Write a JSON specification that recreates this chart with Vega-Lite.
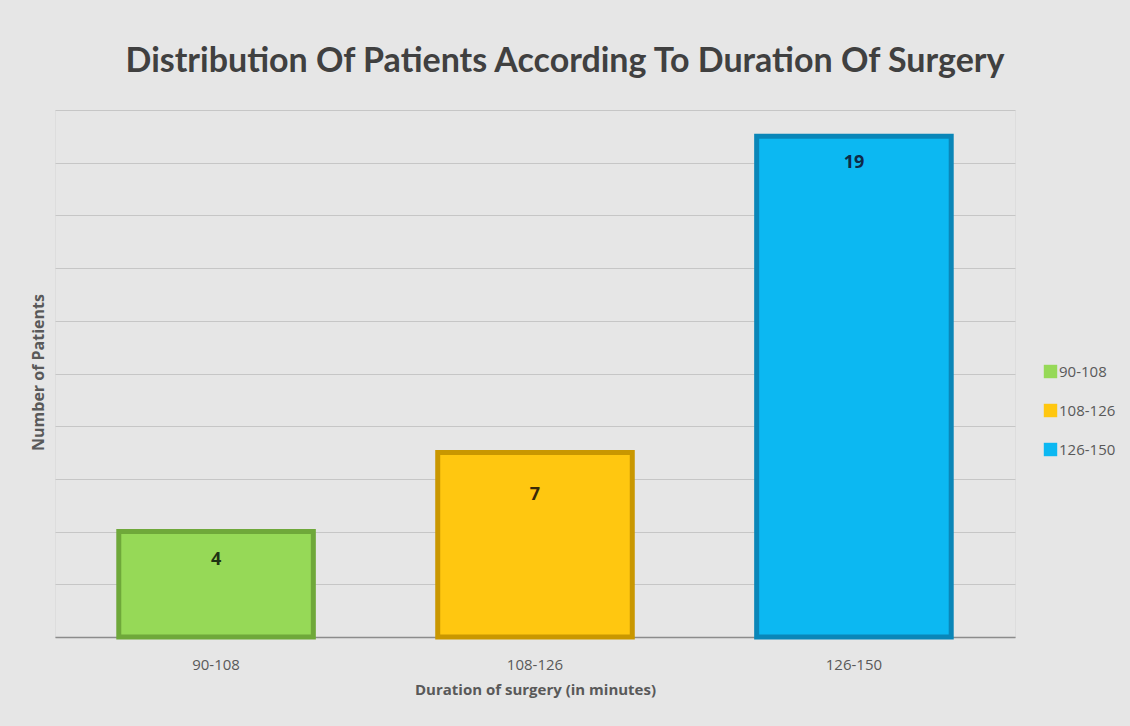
{
  "$schema": "https://vega.github.io/schema/vega-lite/v6.json",
  "autosize": {"type": "none"},
  "width": 960,
  "height": 527,
  "padding": {"left": 55, "right": 115, "top": 110, "bottom": 89},
  "background": "#e6e6e6",
  "title": {
    "text": "Distribution Of Patients According To Duration Of Surgery",
    "font": "Lato",
    "fontSize": 34,
    "fontWeight": "bold",
    "color": "#404040",
    "anchor": "middle",
    "dx": 30,
    "offset": 31
  },
  "data": {
    "values": [
      {"duration": "90-108", "patients": 4},
      {"duration": "108-126", "patients": 7},
      {"duration": "126-150", "patients": 19}
    ]
  },
  "encoding": {
    "x": {
      "field": "duration",
      "type": "nominal",
      "sort": ["90-108", "108-126", "126-150"],
      "scale": {"paddingInner": 0.39, "paddingOuter": 0.2},
      "axis": {
        "title": "Duration of surgery (in minutes)",
        "labelAngle": 0,
        "labelFont": "Open Sans",
        "labelFontSize": 15,
        "labelColor": "#595959",
        "labelPadding": 20,
        "ticks": false,
        "domainColor": "#8c8c8c",
        "domainWidth": 1.5,
        "titleFont": "Open Sans",
        "titleFontSize": 15,
        "titleFontWeight": "bold",
        "titleColor": "#595959",
        "titlePadding": 10
      }
    },
    "y": {
      "field": "patients",
      "type": "quantitative",
      "scale": {"domain": [0, 20]},
      "axis": {
        "title": "Number of Patients",
        "values": [0, 2, 4, 6, 8, 10, 12, 14, 16, 18, 20],
        "labels": false,
        "ticks": false,
        "domain": false,
        "gridColor": "#c6c6c6",
        "gridWidth": 1,
        "titleFont": "Open Sans",
        "titleFontSize": 16,
        "titleFontWeight": "bold",
        "titleColor": "#595959",
        "titleX": -17,
        "titleY": 262,
        "titleAngle": -90,
        "titleAlign": "center",
        "titleBaseline": "middle"
      }
    }
  },
  "layer": [
    {
      "mark": {"type": "bar", "strokeWidth": 5, "strokeJoin": "miter"},
      "encoding": {
        "color": {
          "field": "duration",
          "type": "nominal",
          "scale": {
            "domain": ["90-108", "108-126", "126-150"],
            "range": ["#96d957", "#ffc710", "#0cb8f2"]
          },
          "legend": {
            "orient": "none",
            "legendX": 988,
            "legendY": 254,
            "title": null,
            "symbolType": "square",
            "symbolSize": 180,
            "symbolStrokeWidth": 0,
            "labelFont": "Open Sans",
            "labelFontSize": 15,
            "labelColor": "#595959",
            "labelOffset": 1,
            "rowPadding": 23
          }
        },
        "stroke": {
          "field": "duration",
          "type": "nominal",
          "scale": {
            "domain": ["90-108", "108-126", "126-150"],
            "range": ["#6fa83a", "#c99700", "#0a86b8"]
          },
          "legend": null
        }
      }
    },
    {
      "transform": [{"filter": "datum.duration === '90-108'"}],
      "mark": {
        "type": "text",
        "baseline": "middle",
        "dy": 28,
        "font": "Open Sans",
        "fontSize": 18,
        "fontWeight": "bold",
        "color": "#1e3314"
      },
      "encoding": {
        "text": {"field": "patients", "type": "quantitative"}
      }
    },
    {
      "transform": [{"filter": "datum.duration === '108-126'"}],
      "mark": {
        "type": "text",
        "baseline": "middle",
        "dy": 42,
        "font": "Open Sans",
        "fontSize": 18,
        "fontWeight": "bold",
        "color": "#3a2a08"
      },
      "encoding": {
        "text": {"field": "patients", "type": "quantitative"}
      }
    },
    {
      "transform": [{"filter": "datum.duration === '126-150'"}],
      "mark": {
        "type": "text",
        "baseline": "middle",
        "dy": 27,
        "font": "Open Sans",
        "fontSize": 18,
        "fontWeight": "bold",
        "color": "#0e2a48"
      },
      "encoding": {
        "text": {"field": "patients", "type": "quantitative"}
      }
    }
  ]
}
